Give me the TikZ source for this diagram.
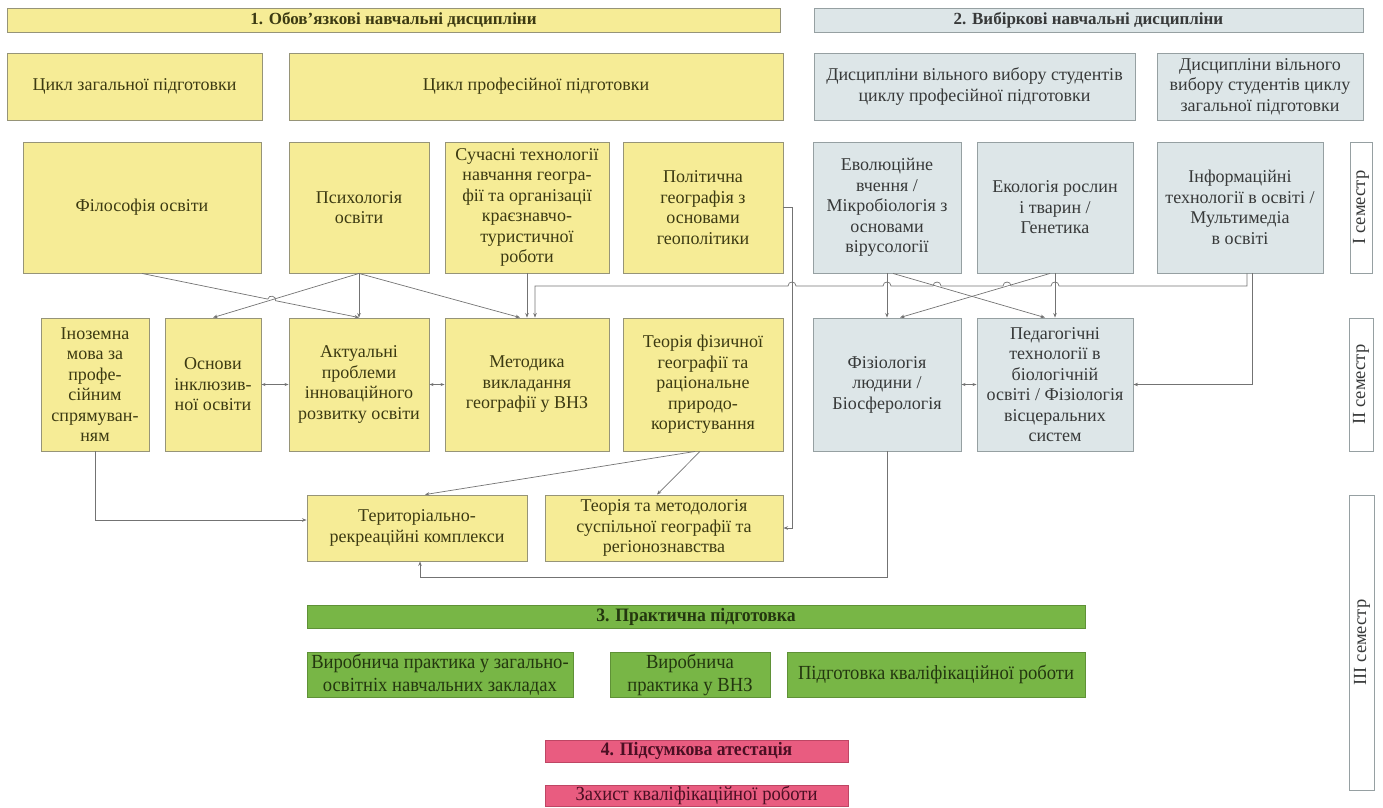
\documentclass[tikz,border=0pt]{standalone}
\usepackage{fontspec}
\setmainfont{Liberation Serif}
\newfontfamily\condfont[FakeStretch=0.93]{Liberation Serif}
\usetikzlibrary{arrows.meta,calc}
\definecolor{yfill}{RGB}{246,236,150}
\definecolor{yline}{RGB}{150,148,120}
\definecolor{ytext}{RGB}{60,58,18}
\definecolor{bfill}{RGB}{221,230,232}
\definecolor{bline}{RGB}{150,160,162}
\definecolor{btext}{RGB}{55,57,57}
\definecolor{gfill}{RGB}{120,182,70}
\definecolor{gline}{RGB}{95,145,55}
\definecolor{gtext}{RGB}{35,55,15}
\definecolor{pfill}{RGB}{233,92,128}
\definecolor{pline}{RGB}{190,70,100}
\definecolor{ptext}{RGB}{75,15,35}
\definecolor{cline}{RGB}{115,115,115}
\begin{document}
\begin{tikzpicture}[x=1pt,y=-1pt,
 base/.style={draw, line width=0.9pt, align=center, inner sep=0pt, font=\fontsize{18}{20.5}\selectfont},
 ybox/.style={base, fill=yfill, draw=yline, text=ytext},
 bbox/.style={base, fill=bfill, draw=bline, text=btext},
 gbox/.style={base, fill=gfill, draw=gline, text=gtext, font=\condfont\fontsize{20}{23}\selectfont},
 pbox/.style={base, fill=pfill, draw=pline, text=ptext, font=\condfont\fontsize{20}{22}\selectfont},
 sbox/.style={base, fill=white, draw=bline, text=btext, rotate=90, font=\fontsize{18.5}{20}\selectfont},
 hd/.style={font=\bfseries\fontsize{17}{19}\selectfont},
 chd/.style={font=\condfont\bfseries\fontsize{19}{20}\selectfont},
 sz/.style 2 args={minimum width=#1pt, minimum height=#2pt},
 conn/.style={draw=cline, line width=0.7pt, -{Stealth[length=4.5pt,width=3.5pt]}},
 both/.style={draw=cline, line width=0.7pt, {Stealth[length=4pt,width=3pt]}-{Stealth[length=4pt,width=3pt]}},
]
\useasboundingbox (0,0) rectangle (1383,807);

\node[ybox, hd, sz={773}{24}] (h1) at (393.5,20) {1. Обов’язкові навчальні дисципліни};
\node[bbox, hd, sz={549}{24}] (h2) at (1088.5,20) {2. Вибіркові навчальні дисципліни};
\node[ybox, sz={255}{67}] (cz) at (134.5,86.5) {Цикл загальної підготовки};
\node[ybox, sz={494}{67}] (cp) at (536,86.5) {Цикл професійної підготовки};
\node[bbox, sz={321}{67}] (vp) at (974.5,86.5) {Дисципліни вільного вибору студентів\\циклу професійної підготовки};
\node[bbox, sz={206}{67}] (vz) at (1260,86.5) {Дисципліни вільного\\вибору студентів циклу\\загальної підготовки};

\node[ybox, sz={238}{131}] (fil) at (142,207.5) {Філософія освіти};
\node[ybox, sz={140}{131}] (psy) at (359,207.5) {Психологія\\освіти};
\node[ybox, sz={164}{131}] (suc) at (527,207.5) {Сучасні технології\\навчання геогра-\\фії та організації\\краєзнавчо-\\туристичної\\роботи};
\node[ybox, sz={160}{131}] (pol) at (703,207.5) {Політична\\географія з\\основами\\геополітики};
\node[bbox, sz={148}{131}] (evo) at (887,207.5) {Еволюційне\\вчення /\\Мікробіологія з\\основами\\вірусології};
\node[bbox, sz={156}{131}] (eko) at (1055,207.5) {Екологія рослин\\і тварин /\\Генетика};
\node[bbox, sz={166}{131}] (inf) at (1240,207.5) {Інформаційні\\технології в освіті /\\Мультимедіа\\в освіті};
\node[sbox, sz={131}{22}] (s1) at (1361,207.5) {I семестр};

\node[ybox, sz={108}{133}] (ino) at (95,384.5) {Іноземна\\мова за\\профе-\\сійним\\спрямуван-\\ням};
\node[ybox, sz={96}{133}] (osn) at (213,384.5) {Основи\\інклюзив-\\ної освіти};
\node[ybox, sz={140}{133}] (akt) at (359,384.5) {Актуальні\\проблеми\\інноваційного\\розвитку освіти};
\node[ybox, sz={164}{133}] (met) at (527,384.5) {Методика\\викладання\\географії у ВНЗ};
\node[ybox, sz={160}{133}] (tfg) at (703,384.5) {Теорія фізичної\\географії та\\раціональне\\природо-\\користування};
\node[bbox, sz={148}{133}] (fiz) at (887,384.5) {Фізіологія\\людини /\\Біосферологія};
\node[bbox, sz={156}{133}] (ped) at (1055,384.5) {Педагогічні\\технології в\\біологічній\\освіті / Фізіологія\\вісцеральних\\систем};
\node[sbox, sz={133}{24}] (s2) at (1361,384.5) {II семестр};

\node[ybox, sz={220}{66}] (ter) at (417,528) {Територіально-\\рекреаційні комплекси};
\node[ybox, sz={238}{66}] (tms) at (664,528) {Теорія та методологія\\суспільної географії та\\регіонознавства};
\node[sbox, sz={295}{25}] (s3) at (1362,642.5) {III семестр};

\node[gbox, chd, sz={778}{23}] (g0) at (696,616.5) {3. Практична підготовка};
\node[gbox, sz={266}{45}] (g1) at (440,674.5) {Виробнича практика у загально-\\освітніх навчальних закладах};
\node[gbox, sz={160}{45}] (g2) at (690,674.5) {Виробнича\\практика у ВНЗ};
\node[gbox, sz={298}{45}] (g3) at (936,674.5) {Підготовка кваліфікаційної роботи};

\node[pbox, chd, sz={303}{22}] (p0) at (696.5,751) {4. Підсумкова атестація};
\node[pbox, sz={303}{21}] (p1) at (696.5,795.5) {Захист кваліфікаційної роботи};

% connectors
\draw[conn] (fil.south) -- (267.8,299.1) .. controls (268.8,294.2) and (276.6,295.8) .. (275.6,300.7) -- (akt.north);
\draw[conn] (psy.south) -- (osn.north);
\draw[conn] (psy.south) -- (akt.north);
\draw[conn] (psy.south) -- ([xshift=-7pt]met.north);
\draw[conn] (suc.south) -- (met.north);
\draw[conn] ([xshift=7pt]inf.south) -- (1247,286) -- (1059,286)
  .. controls (1059,280.7) and (1051,280.7) .. (1051,286) -- (1011,286)
  .. controls (1011,280.7) and (1003,280.7) .. (1003,286) -- (941,286)
  .. controls (941,280.7) and (933,280.7) .. (933,286) -- (891,286)
  .. controls (891,280.7) and (883,280.7) .. (883,286) -- (796,286)
  .. controls (796,280.7) and (788,280.7) .. (788,286) -- (535,286)
  -- ([xshift=8pt]met.north);
\draw[conn] ([xshift=12pt]inf.south) |- (ped.east);
\draw[conn] (evo.south) -- (fiz.north);
\draw[conn] ([xshift=6pt]evo.south) -- ([xshift=-10pt]ped.north);
\draw[conn] ([xshift=-5pt]eko.south) -- ([xshift=13pt]fiz.north);
\draw[conn] (eko.south) -- (ped.north);
\draw[conn] (pol.east) -- ++(9,0) |- (tms.east);
\draw[both] (osn.east) -- (akt.west);
\draw[both] (akt.east) -- (met.west);
\draw[both] (fiz.east) -- (ped.west);
\draw[conn] (ino.south) |- ([yshift=8pt]ter.west);
\draw[conn] ([xshift=-8pt]tfg.south) -- ([xshift=8pt]ter.north);
\draw[conn] ([xshift=-3pt]tfg.south) -- ([xshift=-7pt]tms.north);
\draw[conn] (fiz.south) -- ++(0,126) -| ([xshift=3pt]ter.south);
\end{tikzpicture}
\end{document}
